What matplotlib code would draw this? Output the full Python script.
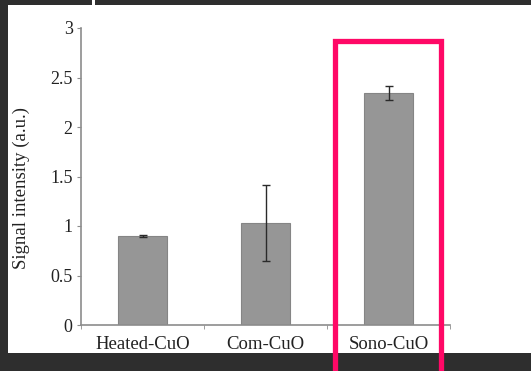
import matplotlib
matplotlib.use('Agg')
import matplotlib.pyplot as plt
from matplotlib.patches import Rectangle

# data
categories = ['Heated-CuO', 'Com-CuO', 'Sono-CuO']
values = [0.90, 1.03, 2.34]
errors = [0.01, 0.38, 0.07]
y_ticks = [0, 0.5, 1, 1.5, 2, 2.5, 3]
y_tick_labels = ['0', '0.5', '1', '1.5', '2', '2.5', '3']

W, H = 531, 371
DARK = '#2e2e2e'
PINK = '#ff0866'
BAR = '#969696'
AXIS = '#8c8c8c'

plt.rcParams['font.family'] = ['Liberation Serif', 'DejaVu Serif']

fig = plt.figure(figsize=(W / 100, H / 100), dpi=100, facecolor=DARK)


def px_rect(x0, y0, x1, y1, **kw):
    # pixel box (top-down) -> figure fraction rectangle
    return Rectangle((x0 / W, 1 - y1 / H), (x1 - x0) / W, (y1 - y0) / H,
                     transform=fig.transFigure, **kw)


# white page area + thin white gap in the top strip
fig.patches.append(px_rect(8, 5, W, 353, facecolor='white', edgecolor='none', zorder=-2))
fig.patches.append(px_rect(92, 0, 95, 5, facecolor='white', edgecolor='none', zorder=-2))

ax = fig.add_axes([81 / W, 46 / H, (450 - 81) / W, (325 - 28) / H])
ax.set_facecolor('none')

xs = [i + 0.5 for i in range(len(categories))]
ax.bar(xs, values, width=0.4, color=BAR, edgecolor='#858585', linewidth=0.8, zorder=2)
ax.errorbar(xs, values, yerr=errors, fmt='none', ecolor='#2a2a2a',
            elinewidth=1.0, capsize=3, capthick=1.0, zorder=3)

ax.set_xlim(0, 3)
ax.set_ylim(0, 3)
ax.set_yticks(y_ticks)
ax.set_yticklabels(y_tick_labels, fontsize=13, color='#222222')
ax.set_xticks(xs)
ax.set_xticklabels(categories, fontsize=13.5, color='#222222')
ax.set_xticks([0, 1, 2, 3], minor=True)

ax.tick_params(axis='x', which='major', length=0, pad=8)
ax.tick_params(axis='x', which='minor', length=3, color=AXIS, direction='out')
ax.tick_params(axis='y', length=3, color=AXIS, direction='out', pad=3)

for side in ['top', 'right']:
    ax.spines[side].set_visible(False)
for side in ['left', 'bottom']:
    ax.spines[side].set_color(AXIS)
    ax.spines[side].set_linewidth(1.2)

fig.text(21 / W, 1 - 188 / H, 'Signal intensity (a.u.)', rotation=90,
         ha='center', va='center', fontsize=13.5, color='#222222')

# highlight box around the last bar
fig.patches.append(px_rect(334.5, 41, 440.5, 390, facecolor='none', edgecolor=PINK,
                           linewidth=3.8, zorder=5, clip_on=False))

fig.savefig('out.png', dpi=100, facecolor=DARK)
